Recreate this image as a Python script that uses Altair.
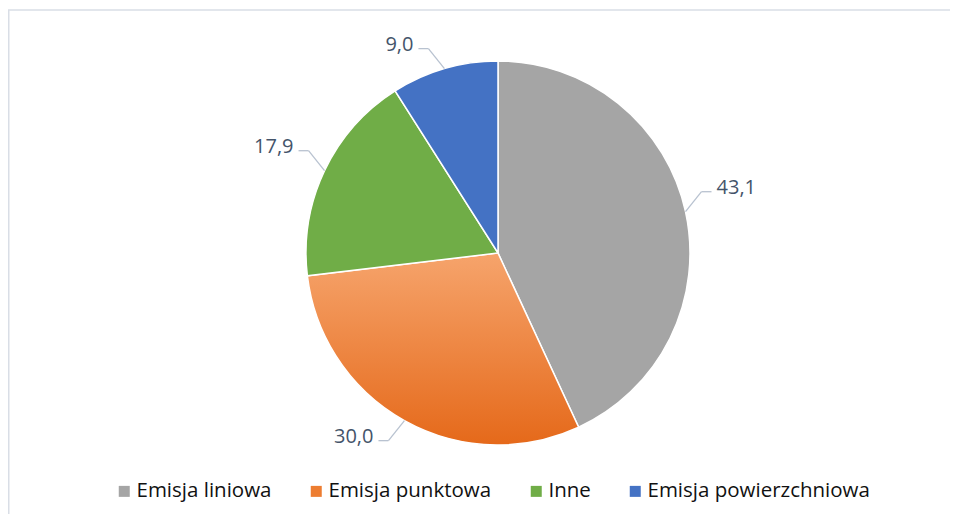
import altair as alt
import pandas as pd
import numpy as np

# ---- data ----
categories = ["Emisja liniowa", "Emisja punktowa", "Inne", "Emisja powierzchniowa"]
values = [43.1, 30.0, 17.9, 9.0]
colors = ["#A5A5A5", "#ED7D31", "#70AD47", "#4472C4"]

# ---- layout constants ----
W, H = 942, 506
CX, CY = 490, 245
R = 192
FONT = "Open Sans"

df = pd.DataFrame({"cat": categories, "val": values, "idx": list(range(len(values)))})
df["label"] = df["val"].map(lambda v: f"{v:.1f}".replace(".", ","))
total = df["val"].sum()
mid = (df["val"].cumsum() - df["val"] / 2) / total * 2 * np.pi
s, c = np.sin(mid), np.cos(mid)
sx = np.sign(s)
sy = -np.sign(c)
df["ex"] = CX + R * s
df["ey"] = CY - R * c
df["bx"] = df["ex"] + 16 * sx
df["by"] = df["ey"] + 20 * sy
df["hx"] = df["bx"] + 10 * sx
df["tx"] = df["hx"] + 5 * sx
df["ty"] = df["by"] - 4
df["right"] = s > 0

grad = {
    "gradient": "linear", "x1": 0, "y1": 0, "x2": 0, "y2": 1,
    "stops": [{"offset": 0, "color": "#F6A46C"}, {"offset": 1, "color": "#E5691A"}],
}

base = alt.Chart(df)

pie = base.mark_arc(outerRadius=R, stroke="white", strokeWidth=1.5).encode(
    theta=alt.Theta("val:Q", stack=True),
    order=alt.Order("idx:Q"),
    x=alt.value(CX),
    y=alt.value(CY),
    fill=alt.condition(
        alt.datum.cat == "Emisja punktowa",
        alt.value(grad),
        alt.Fill(
            "cat:N",
            scale=alt.Scale(domain=categories, range=colors),
            legend=alt.Legend(
                title=None, orient="none", legendX=106, legendY=473,
                direction="horizontal", symbolType="square", symbolSize=121,
                symbolStrokeWidth=0, labelFont=FONT, labelFontSize=20.5,
                labelColor="#111111", labelOffset=2, columnPadding=34, padding=0,
                labelLimit=0,
            ),
        ),
    ),
)

LEAD = "#B8C2D0"
lead1 = base.mark_rule(color=LEAD, strokeWidth=1.3).encode(
    x=alt.X("ex:Q", scale=None), y=alt.Y("ey:Q", scale=None),
    x2="bx:Q", y2="by:Q",
)
lead2 = base.mark_rule(color=LEAD, strokeWidth=1.3).encode(
    x=alt.X("bx:Q", scale=None), y=alt.Y("by:Q", scale=None),
    x2="hx:Q", y2="by:Q",
)

txt_r = base.transform_filter(alt.datum.right == True).mark_text(
    align="left", baseline="middle", font=FONT, fontSize=20, color="#44546A"
).encode(x=alt.X("tx:Q", scale=None), y=alt.Y("ty:Q", scale=None), text="label:N")
txt_l = base.transform_filter(alt.datum.right == False).mark_text(
    align="right", baseline="middle", font=FONT, fontSize=20, color="#44546A"
).encode(x=alt.X("tx:Q", scale=None), y=alt.Y("ty:Q", scale=None), text="label:N")

frame_df = pd.DataFrame({"a": [0]})
top = alt.Chart(frame_df).mark_rule(color="#D9DEE6", strokeWidth=1.5).encode(
    x=alt.value(0), x2=alt.value(W), y=alt.value(2)
)
left = alt.Chart(frame_df).mark_rule(color="#D9DEE6", strokeWidth=1.5).encode(
    x=alt.value(0.75), y=alt.value(2), y2=alt.value(H)
)

chart = alt.layer(top, left, pie, lead1, lead2, txt_r, txt_l).properties(
    width=W, height=H, autosize=alt.AutoSizeParams(type="none"), padding=0
).configure_view(stroke=None)

chart.save("out.html", embed_options={"renderer": "svg", "actions": False})
